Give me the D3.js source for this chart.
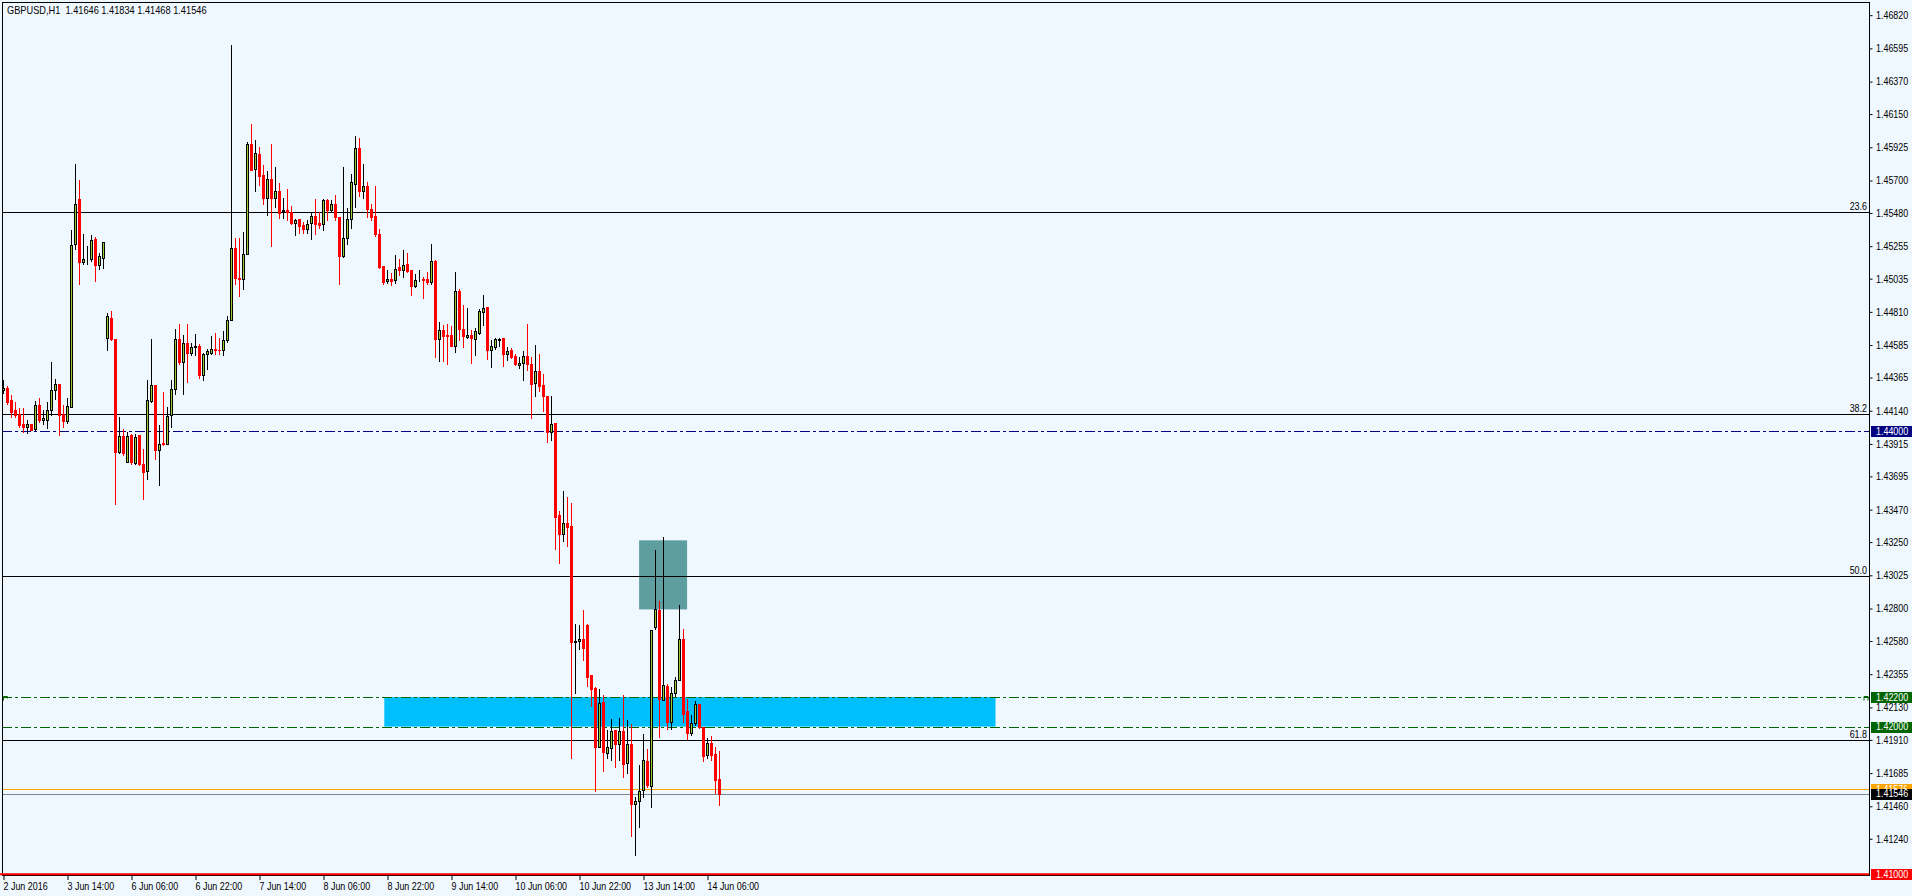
<!DOCTYPE html>
<html><head><meta charset="utf-8">
<script src="https://cdn.jsdelivr.net/npm/d3@7"></script>
<style>
html,body{margin:0;padding:0;background:#F0F8FF;overflow:hidden}
svg{display:block}
text{font-family:"Liberation Sans",Arial,sans-serif;font-size:10.5px;fill:#000}
</style></head><body>
<svg id="c" width="1912" height="896"></svg>
<script>
// ---------------- data ----------------
const titleText = "GBPUSD,H1  1.41646 1.41834 1.41468 1.41546";

const xLabelIdx = [0,16,32,48,64,80,96,112,128,144,160,176];
const xLabels = ["2 Jun 2016","3 Jun 14:00","6 Jun 06:00","6 Jun 22:00","7 Jun 14:00","8 Jun 06:00",
  "8 Jun 22:00","9 Jun 14:00","10 Jun 06:00","10 Jun 22:00","13 Jun 14:00","14 Jun 06:00"];

const yTicks = [1.46820,1.46595,1.46370,1.46150,1.45925,1.45700,1.45480,1.45255,1.45035,1.44810,
  1.44585,1.44365,1.44140,1.43915,1.43695,1.43470,1.43250,1.43025,1.42800,1.42580,1.42355,1.42130,
  1.41910,1.41685,1.41460,1.41240];

const open = [1.44283,1.44294,1.44211,1.44143,1.44120,1.44048,1.44030,1.44048,1.44019,1.44177,
1.44075,1.44080,1.44143,1.44283,1.44324,1.44120,1.44070,1.44165,1.45273,1.45573,
1.45148,1.45173,1.45171,1.45302,1.45130,1.45178,1.44633,1.44771,1.44629,1.43860,
1.43967,1.43792,1.43973,1.43788,1.43973,1.43782,1.43731,1.44204,1.44317,1.43876,
1.43921,1.43917,1.44109,1.44290,1.44629,1.44470,1.44602,1.44534,1.44572,1.44579,
1.44380,1.44527,1.44534,1.44561,1.44554,1.44554,1.44617,1.44758,1.45246,1.45042,
1.45036,1.45205,1.45950,1.45781,1.45878,1.45736,1.45582,1.45713,1.45582,1.45627,
1.45492,1.45498,1.45487,1.45415,1.45437,1.45401,1.45372,1.45412,1.45462,1.45412,
1.45408,1.45566,1.45503,1.45539,1.45453,1.45187,1.45313,1.45442,1.45679,1.45923,
1.45629,1.45661,1.45510,1.45458,1.45336,1.45119,1.45019,1.45036,1.45024,1.45114,
1.45092,1.45132,1.45092,1.44985,1.45031,1.45036,1.45036,1.45013,1.45153,1.44629,
1.44685,1.44651,1.44651,1.44579,1.44949,1.44692,1.44640,1.44651,1.44629,1.44667,
1.44809,1.44843,1.44554,1.44572,1.44622,1.44633,1.44527,1.44550,1.44509,1.44453,
1.44463,1.44509,1.44459,1.44328,1.44407,1.44312,1.44238,1.43996,1.44057,1.43431,
1.43307,1.43382,1.43357,1.42575,1.42579,1.42591,1.42686,1.42353,1.42261,1.41865,
1.42166,1.41823,1.41857,1.41974,1.41884,1.41967,1.41752,1.41879,1.41477,1.41499,
1.41572,1.41764,1.41596,1.42672,1.42787,1.42182,1.42272,1.42030,1.42227,1.42313,
1.42595,1.42103,1.41958,1.42026,1.42150,1.41995,1.41809,1.41890,1.41816,1.41646];

const high = [1.44351,1.44308,1.44245,1.44199,1.44161,1.44161,1.44075,1.44053,1.44204,1.44226,
1.44148,1.44199,1.44470,1.44358,1.44324,1.44177,1.44229,1.45363,1.45815,1.45702,
1.45336,1.45254,1.45329,1.45317,1.45209,1.45280,1.44802,1.44816,1.44629,1.44097,
1.44014,1.43996,1.43985,1.43985,1.43973,1.43883,1.44346,1.44624,1.44317,1.44041,
1.44267,1.44165,1.44346,1.44697,1.44731,1.44651,1.44726,1.44599,1.44663,1.44595,
1.44534,1.44558,1.44644,1.44670,1.44636,1.44680,1.44780,1.46617,1.45313,1.45313,
1.45351,1.45961,1.46086,1.45973,1.45927,1.45803,1.45765,1.45946,1.45792,1.45683,
1.45584,1.45645,1.45525,1.45442,1.45442,1.45417,1.45431,1.45487,1.45578,1.45487,
1.45578,1.45578,1.45566,1.45600,1.45453,1.45792,1.45517,1.45742,1.46000,1.45988,
1.45810,1.45690,1.45544,1.45661,1.45374,1.45119,1.45092,1.45073,1.45193,1.45171,
1.45227,1.45209,1.45092,1.45065,1.45092,1.45046,1.45080,1.45268,1.45160,1.44741,
1.44719,1.44726,1.44712,1.45080,1.44968,1.44855,1.44836,1.44685,1.44701,1.44832,
1.44922,1.44843,1.44617,1.44636,1.44636,1.44633,1.44572,1.44568,1.44527,1.44504,
1.44545,1.44726,1.44504,1.44583,1.44522,1.44387,1.44238,1.44238,1.44057,1.43458,
1.43594,1.43555,1.43514,1.42697,1.42686,1.42787,1.42692,1.42353,1.42267,1.42252,
1.42211,1.41974,1.42053,1.41979,1.42060,1.42211,1.42046,1.42015,1.41522,1.41737,
1.41947,1.41850,1.42656,1.43199,1.42848,1.43284,1.42290,1.42267,1.42335,1.42821,
1.42663,1.42189,1.42082,1.42172,1.42150,1.41995,1.41924,1.41933,1.41865,1.41834];

const low = [1.44260,1.44184,1.44097,1.44097,1.44030,1.43996,1.43989,1.44007,1.44007,1.44064,
1.44053,1.44023,1.44109,1.44222,1.43978,1.44030,1.44057,1.44165,1.45239,1.45002,
1.45137,1.45137,1.45155,1.45019,1.45103,1.45110,1.44554,1.44617,1.43510,1.43853,
1.43843,1.43792,1.43782,1.43782,1.43770,1.43544,1.43680,1.44199,1.43815,1.43635,
1.43906,1.43917,1.44030,1.44256,1.44459,1.44256,1.44335,1.44516,1.44516,1.44365,
1.44351,1.44425,1.44527,1.44527,1.44522,1.44516,1.44606,1.44753,1.45002,1.44916,
1.44968,1.45205,1.45774,1.45629,1.45668,1.45544,1.45464,1.45254,1.45521,1.45449,
1.45449,1.45431,1.45403,1.45329,1.45345,1.45341,1.45341,1.45302,1.45336,1.45375,
1.45363,1.45431,1.45494,1.45431,1.44997,1.45182,1.45268,1.45381,1.45521,1.45593,
1.45584,1.45453,1.45431,1.45322,1.45110,1.45002,1.45006,1.44990,1.45006,1.45058,
1.45046,1.45080,1.44922,1.44979,1.45019,1.44904,1.44997,1.45002,1.44504,1.44477,
1.44477,1.44455,1.44579,1.44538,1.44617,1.44572,1.44633,1.44463,1.44516,1.44663,
1.44719,1.44493,1.44436,1.44556,1.44577,1.44441,1.44487,1.44500,1.44448,1.44430,
1.44346,1.44414,1.44091,1.44240,1.44274,1.44138,1.43928,1.43939,1.43205,1.43108,
1.43257,1.43221,1.41784,1.42227,1.42528,1.42448,1.42272,1.42137,1.41562,1.41861,
1.41698,1.41786,1.41777,1.41725,1.41777,1.41657,1.41685,1.41262,1.41127,1.41319,
1.41522,1.41594,1.41454,1.42663,1.41928,1.42182,1.41981,1.41985,1.42206,1.42313,
1.42030,1.41913,1.41940,1.42008,1.41992,1.41766,1.41786,1.41775,1.41549,1.41468];

const close = [1.44294,1.44199,1.44131,1.44109,1.44041,1.44030,1.44048,1.44012,1.44177,1.44075,
1.44091,1.44143,1.44283,1.44324,1.44114,1.44070,1.44172,1.45266,1.45544,1.45148,
1.45171,1.45176,1.45300,1.45130,1.45187,1.45280,1.44780,1.44624,1.43860,1.43967,
1.43853,1.43967,1.43792,1.43962,1.43782,1.43725,1.44211,1.44317,1.43876,1.43917,
1.43912,1.44102,1.44290,1.44629,1.44470,1.44602,1.44534,1.44572,1.44579,1.44380,
1.44527,1.44543,1.44561,1.44550,1.44550,1.44622,1.44758,1.45246,1.45040,1.45036,
1.45205,1.45950,1.45774,1.45883,1.45731,1.45584,1.45713,1.45582,1.45627,1.45480,
1.45498,1.45487,1.45412,1.45431,1.45395,1.45372,1.45408,1.45462,1.45408,1.45398,
1.45566,1.45498,1.45539,1.45453,1.45189,1.45313,1.45442,1.45688,1.45923,1.45629,
1.45661,1.45505,1.45453,1.45336,1.45114,1.45013,1.45036,1.45019,1.45103,1.45092,
1.45126,1.45087,1.44985,1.45029,1.45036,1.45029,1.45013,1.45153,1.44624,1.44685,
1.44646,1.44644,1.44579,1.44949,1.44697,1.44646,1.44651,1.44633,1.44678,1.44814,
1.44839,1.44550,1.44577,1.44624,1.44626,1.44527,1.44543,1.44504,1.44455,1.44466,
1.44509,1.44459,1.44324,1.44407,1.44308,1.44238,1.43996,1.44053,1.43420,1.43307,
1.43382,1.43352,1.42570,1.42579,1.42595,1.42532,1.42335,1.42257,1.41865,1.42162,
1.41827,1.41861,1.41967,1.41879,1.41967,1.41748,1.41884,1.41477,1.41499,1.41567,
1.41771,1.41601,1.42656,1.42794,1.42189,1.42279,1.42030,1.42229,1.42318,1.42595,
1.42087,1.41958,1.42026,1.42150,1.41995,1.41804,1.41890,1.41809,1.41640,1.41546];

const fibNames  = ["23.6","38.2","50.0","61.8"];
const fibPrices = [1.45490,1.44120,1.43018,1.41911];

const hLinePrices = [1.44000,1.42200,1.42000];
const hLineColors = ["#000080","#006400","#006400"];

const askPrice = 1.41576, bidPrice = 1.41546, alertPrice = 1.41000;

// rectangles in (bar index, price)
const zoneBar  = [95.2, 248.0], zonePrice  = [1.42200, 1.42000];
const boxBar   = [158.9, 170.9], boxPrice  = [1.43262, 1.42794];

// price-scale highlight labels
const tagPrices = [1.44000,1.42200,1.42000,1.41576,1.41546,1.41000];
const tagBg     = ["#000080","#006400","#006400","#FFA500","#000000","#FF0000"];
const tagFg     = ["#FFFFFF","#FFFFFF","#FFFFFF","#FFFFFF","#FFFFFF","#FFFFFF"];

// ---------------- drawing ----------------
const svg = d3.select("#c");
const L = 2, T = 2, R = 1869, B = 875;
const n = open.length;
const SQ = 0.85; // horizontal squeeze of the narrow terminal font

const x = d3.scaleLinear().domain([0, n - 1]).range([3.5, 3.5 + 4 * (n - 1)]);
const y = d3.scaleLinear().domain([1.41000, 1.46820]).range([874.2, 15.2]);
const py = p => Math.round(y(p)) + 0.5;

// squeeze a text horizontally around its own anchor x
function squeeze(sel, f) {
  f = f || SQ;
  sel.each(function () {
    const x0 = +this.getAttribute("x") || 0;
    d3.select(this).attr("transform", `translate(${x0},0) scale(${f},1) translate(${-x0},0)`);
  });
}

svg.append("rect").attr("width",1912).attr("height",896).attr("fill","#F0F8FF");

const plot = svg.append("g");
// background rectangles
plot.append("rect")
  .attr("x", x(zoneBar[0])).attr("width", x(zoneBar[1]) - x(zoneBar[0]))
  .attr("y", y(zonePrice[0])).attr("height", y(zonePrice[1]) - y(zonePrice[0]))
  .attr("fill", "#00BFFF");
plot.append("rect")
  .attr("x", x(boxBar[0])).attr("width", x(boxBar[1]) - x(boxBar[0]))
  .attr("y", y(boxPrice[0])).attr("height", y(boxPrice[1]) - y(boxPrice[0]))
  .attr("fill", "#5F9EA0");

// fibonacci lines
fibPrices.forEach((p, k) => {
  plot.append("line").attr("x1", L).attr("x2", R).attr("y1", py(p)).attr("y2", py(p))
    .attr("stroke", "#000").attr("stroke-width", 1);
  plot.append("text").attr("class","sq").attr("x", R - 2).attr("y", py(p) - 2.5).attr("text-anchor", "end")
    .text(fibNames[k]);
});

// horizontal dash-dot lines
hLinePrices.forEach((p, k) => {
  plot.append("line").attr("x1", L).attr("x2", R).attr("y1", py(p)).attr("y2", py(p))
    .attr("stroke", hLineColors[k]).attr("stroke-width", 1)
    .attr("stroke-dasharray", "10,3,3,3");
});
// anchor marks of the upper green line
plot.append("path").attr("d", `M3.5,${py(hLinePrices[1])+3} V${py(hLinePrices[1])-1} H7.5 V${py(hLinePrices[1])+1}`)
  .attr("fill","none").attr("stroke","#006400");
plot.append("path").attr("d", `M${R-5},${py(hLinePrices[1])+3} V${py(hLinePrices[1])-1} H${R-1} V${py(hLinePrices[1])+3}`)
  .attr("fill","none").attr("stroke","#006400");

// ask / bid lines
plot.append("line").attr("x1", L).attr("x2", R).attr("y1", py(askPrice)).attr("y2", py(askPrice))
  .attr("stroke", "#FFA500");
plot.append("line").attr("x1", L).attr("x2", R).attr("y1", py(bidPrice)).attr("y2", py(bidPrice))
  .attr("stroke", "#778899");

// candles
const idx = d3.range(n);
const bull = i => close[i] >= open[i];
const cg = plot.append("g");
cg.selectAll("line.w").data(idx).join("line")
  .attr("x1", i => x(i)).attr("x2", i => x(i))
  .attr("y1", i => Math.round(y(high[i]))).attr("y2", i => Math.round(y(low[i])) + 1)
  .attr("stroke", i => bull(i) ? "#000" : "#FF0000").attr("stroke-width", 1);
cg.selectAll("rect.b").data(idx.filter(bull)).join("rect")
  .attr("x", i => x(i) - 1).attr("width", 2)
  .attr("y", i => Math.round(y(close[i])) + 0.5)
  .attr("height", i => Math.max(0, Math.round(y(open[i])) - Math.round(y(close[i]))))
  .attr("fill", "#9ACD32").attr("stroke", "#000").attr("stroke-width", 1);
cg.selectAll("rect.r").data(idx.filter(i => !bull(i))).join("rect")
  .attr("x", i => x(i) - 1.5).attr("width", 3)
  .attr("y", i => Math.round(y(open[i])))
  .attr("height", i => Math.max(1, Math.round(y(close[i])) - Math.round(y(open[i])) + 1))
  .attr("fill", "#FF0000");

// frame
svg.append("rect").attr("x", L + 0.5).attr("y", T + 0.5).attr("width", R - L).attr("height", B - T)
  .attr("fill", "none").attr("stroke", "#000");

// alert (red) line at bottom
svg.append("line").attr("x1", 0).attr("x2", R).attr("y1", y(alertPrice)).attr("y2", y(alertPrice))
  .attr("stroke", "#FF0000").attr("stroke-width", 2);

// y axis
const yAxis = svg.append("g").attr("transform", `translate(${R + 0.5},0)`)
  .call(d3.axisRight(y).tickValues(yTicks).tickSize(3).tickPadding(3.5).tickFormat(d3.format(".5f")));
yAxis.select(".domain").remove();
yAxis.selectAll("line").attr("stroke", "#000");
yAxis.selectAll("text").attr("font-family", null).attr("font-size", null).attr("fill", "#000").attr("class","sq");

// highlighted price tags (the ask tag sits under the bid tag, as in the terminal)
const clip = svg.append("defs").append("clipPath").attr("id", "askclip");
clip.append("rect").attr("x", R + 2).attr("width", 1912 - R - 2)
  .attr("y", Math.round(y(tagPrices[3])) - 5).attr("height", Math.round(y(tagPrices[4])) - Math.round(y(tagPrices[3])));
tagPrices.forEach((p, k) => {
  const cy = y(p);
  svg.append("rect").attr("x", R + 2).attr("width", 1912 - R - 2)
    .attr("y", Math.round(cy) - 5).attr("height", 11).attr("fill", tagBg[k]);
  const t = svg.append("text").attr("class","sq").attr("x", R + 7).attr("y", cy).attr("dy", "0.34em")
    .style("fill", tagFg[k]).text(d3.format(".5f")(p));
  if (k === 3) t.attr("clip-path", "url(#askclip)");
});

// x axis
const xAxis = svg.append("g").attr("transform", `translate(0,${B})`)
  .call(d3.axisBottom(x).tickValues(xLabelIdx).tickSize(5).tickPadding(3)
    .tickFormat((d, k) => xLabels[k]));
xAxis.select(".domain").remove();
xAxis.selectAll("line").attr("stroke", "#000");
xAxis.selectAll("text").attr("font-family", null).attr("font-size", null)
  .attr("text-anchor", "start").attr("x", -0.5).attr("fill", "#000").attr("class","sq");

// title
svg.append("text").attr("class","tt").attr("x", 7).attr("y", 14).style("white-space", "pre").text(titleText);

squeeze(svg.selectAll("text.sq"));
squeeze(svg.selectAll("text.tt"), 0.88);
</script>
</body></html>
